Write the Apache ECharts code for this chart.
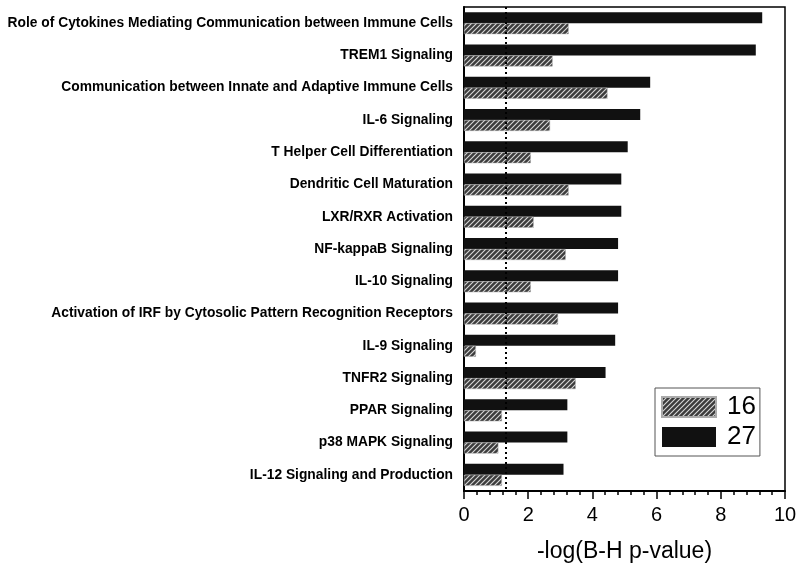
<!DOCTYPE html>
<html>
<head>
<meta charset="utf-8">
<script src="https://cdn.jsdelivr.net/npm/echarts@6/dist/echarts.min.js"></script>
<style>html,body{margin:0;padding:0;background:#fff;}#chart{width:800px;height:570px;}</style>
</head>
<body>
<div id="chart"></div>
<script>
const categories = [
  "Role of Cytokines Mediating Communication between Immune Cells",
  "TREM1 Signaling",
  "Communication between Innate and Adaptive Immune Cells",
  "IL-6 Signaling",
  "T Helper Cell Differentiation",
  "Dendritic Cell Maturation",
  "LXR/RXR Activation",
  "NF-kappaB Signaling",
  "IL-10 Signaling",
  "Activation of IRF by Cytosolic Pattern Recognition Receptors",
  "IL-9 Signaling",
  "TNFR2 Signaling",
  "PPAR Signaling",
  "p38 MAPK Signaling",
  "IL-12 Signaling and Production"
];
const values16 = [3.26, 2.76, 4.47, 2.68, 2.08, 3.26, 2.17, 3.17, 2.08, 2.93, 0.37, 3.48, 1.18, 1.07, 1.18];
const values27 = [9.29, 9.09, 5.80, 5.49, 5.10, 4.90, 4.90, 4.80, 4.80, 4.80, 4.71, 4.41, 3.22, 3.22, 3.10];
const thresholdValue = 1.3;
const xTicks = [0, 2, 4, 6, 8, 10];

function makeHatch() {
  const s = 5;
  const c = document.createElement('canvas');
  c.width = s; c.height = s;
  const g = c.getContext('2d');
  g.fillStyle = '#3c3c3c';
  g.fillRect(0, 0, s, s);
  g.strokeStyle = '#d8d8d8';
  g.lineWidth = 1.1;
  g.beginPath();
  g.moveTo(0, s); g.lineTo(s, 0);
  g.moveTo(-1, 1); g.lineTo(1, -1);
  g.moveTo(s - 1, s + 1); g.lineTo(s + 1, s - 1);
  g.stroke();
  return c;
}
const hatch = { image: makeHatch(), repeat: 'repeat' };

const chart = echarts.init(document.getElementById('chart'), null, { renderer: 'canvas' });
chart.setOption({
  animation: false,
  backgroundColor: '#fff',
  grid: { left: 464, right: 15, top: 7, bottom: 79, show: true, borderColor: '#000', borderWidth: 1.5, backgroundColor: 'transparent' },
  legend: {
    data: ['16', '27'],
    orient: 'vertical',
    left: 655, top: 388,
    itemWidth: 54, itemHeight: 20, itemGap: 4,
    padding: [6, 4, 6, 6],
    borderColor: '#555', borderWidth: 1,
    icon: 'rect',
    textStyle: { fontSize: 26, color: '#000', fontFamily: 'Liberation Sans', padding: [0, 0, 0, 6] },
    selectedMode: false
  },
  xAxis: {
    type: 'value', min: 0, max: 10, interval: 2,
    name: '-log(B-H p-value)', nameLocation: 'middle', nameGap: 49,
    nameTextStyle: { fontSize: 23, color: '#000', fontFamily: 'Liberation Sans' },
    axisLine: { show: true, lineStyle: { color: '#000', width: 2 } },
    axisTick: { show: true, length: 8, lineStyle: { color: '#000', width: 1.5 } },
    minorTick: { show: true, splitNumber: 5, length: 4, lineStyle: { color: '#000', width: 1.5 } },
    axisLabel: { fontSize: 20, color: '#000', margin: 14, fontFamily: 'Liberation Sans', formatter: v => xTicks.includes(v) ? String(v) : '' },
    splitLine: { show: false }
  },
  yAxis: {
    type: 'category', data: categories, inverse: true,
    axisLine: { show: true, lineStyle: { color: '#000', width: 2 } },
    axisTick: { show: false },
    axisLabel: { fontSize: 13.8, fontWeight: 'bold', color: '#000', margin: 11, fontFamily: 'Liberation Sans' },
    splitLine: { show: false }
  },
  series: [
    {
      name: '27', type: 'bar', data: values27, barWidth: 11, barGap: '0%',
      itemStyle: { color: '#111' }
    },
    {
      name: '16', type: 'bar', data: values16, barWidth: 11, barGap: '0%',
      itemStyle: { color: hatch, borderColor: '#aaa', borderWidth: 0.5 },
      markLine: {
        silent: true, symbol: ['none', 'none'],
        label: { show: false },
        lineStyle: { color: '#000', type: [2, 3], width: 2 },
        data: [{ xAxis: thresholdValue }]
      }
    }
  ]
});
</script>
</body>
</html>
